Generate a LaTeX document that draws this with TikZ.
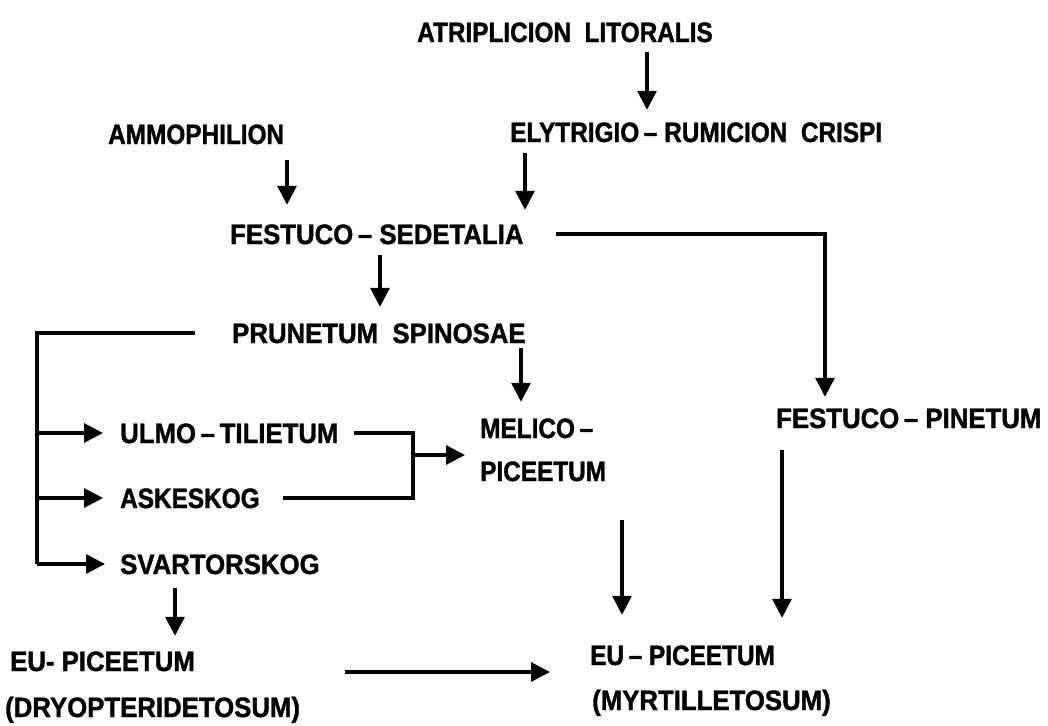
\documentclass[tikz,border=0pt]{standalone}
\usepackage{fontspec}
\newfontfamily\lab[FakeStretch=0.92,BoldFeatures={FakeBold=1.3}]{Liberation Sans}
\newfontfamily\labn[FakeStretch=0.87,BoldFeatures={FakeBold=1.3}]{Liberation Sans}
\usetikzlibrary{arrows.meta}
\begin{document}
\begin{tikzpicture}[x=1pt,y=-1pt,
  lbl/.style={anchor=base west,inner sep=0pt,text height=20pt,text depth=0pt,
    font=\lab\bfseries\fontsize{28}{30}\selectfont},
  lbln/.style={lbl,font=\labn\bfseries\fontsize{28}{30}\selectfont},
  ln/.style={line width=3.2pt},
  arr/.style={line width=3.2pt,-{Triangle[length=19pt,width=19pt]}}]
\useasboundingbox (0,0) rectangle (1048,725);
% nodes
\node[lbln] (atr) at (417,42) {ATRIPLICION\ \ LITORALIS};
\node[lbln] (ely) at (510,142) {ELYTRIGIO\,–\ RUMICION\ \ CRISPI};
\node[lbln] (amm) at (108,144) {AMMOPHILION};
\node[lbl] (fs) at (230,244) {FESTUCO\,–\ SEDETALIA};
\node[lbl] (pru) at (232,343) {PRUNETUM\ \ SPINOSAE};
\node[lbl] (ulm) at (120,443) {ULMO\,–\,TILIETUM};
\node[lbln] (ask) at (120,508) {ASKESKOG};
\node[lbl] (svt) at (120,574) {SVARTORSKOG};
\node[lbln] (mel) at (480,438) {MELICO\,–};
\node[lbln] (mel2) at (480,481) {PICEETUM};
\node[lbl] (fp) at (776,428) {FESTUCO\,–\ PINETUM};
\node[lbln] (eur) at (590,665) {EU\,–\ PICEETUM};
\node[lbl] (myr) at (592,710) {(MYRTILLETOSUM)};
\node[lbl] (eul) at (10,671) {EU-\ PICEETUM};
\node[lbl] (dry) at (5,717) {(DRYOPTERIDETOSUM)};
% helper coordinates
\coordinate (x1) at (647,0);
\coordinate (x2) at (525,0);
\coordinate (x3) at (287,0);
\coordinate (x4) at (380,0);
\coordinate (x5) at (825,0);
\coordinate (x6) at (521,0);
\coordinate (xL) at (37,0);
\coordinate (cB) at (413,455);
\coordinate (x7) at (782,0);
\coordinate (x8) at (622,0);
\coordinate (x9) at (175,0);
\coordinate (hs) at (345,672);
% connectors
\draw[arr,shorten <=10pt,shorten >=12pt] (atr.south -| x1) -- (ely.north -| x1);
\draw[arr,shorten <=11pt,shorten >=14pt] (ely.south -| x2) -- (fs.north -| x2);
\draw[arr,shorten <=16pt,shorten >=19pt] (amm.south -| x3) -- (fs.north -| x3);
\draw[arr,shorten <=11pt,shorten >=16pt] (fs.south -| x4) -- (pru.north -| x4);
\draw[arr,shorten <=32pt,shorten >=11pt] (fs.east) -| (fp.north -| x5);
\draw[arr,shorten <=5pt,shorten >=16pt] (pru.south -| x6) -- (mel.north -| x6);
\draw[ln,shorten <=37pt] (pru.west) -| (svt.west -| xL);
\draw[arr,shorten >=17pt] (ulm.west -| xL) -- (ulm.west);
\draw[arr,shorten >=17pt] (ask.west -| xL) -- (ask.west);
\draw[arr,shorten >=15pt] (svt.west -| xL) -- (svt.west);
\draw[ln,shorten <=15pt,shorten >=23pt] (ulm.east) -| (cB |- ask.east) -- (ask.east);
\draw[arr,shorten >=15pt] (cB) -- (cB -| mel.west);
\draw[arr,shorten <=22pt,shorten >=27pt] (fp.south -| x7) -- (eur.north -| x7);
\draw[arr,shorten <=39pt,shorten >=30pt] (mel2.south -| x8) -- (eur.north -| x8);
\draw[arr,shorten <=14pt,shorten >=15pt] (svt.south -| x9) -- (eul.north -| x9);
\draw[arr,shorten >=40pt] (hs) -- (hs -| eur.west);
\end{tikzpicture}
\end{document}
